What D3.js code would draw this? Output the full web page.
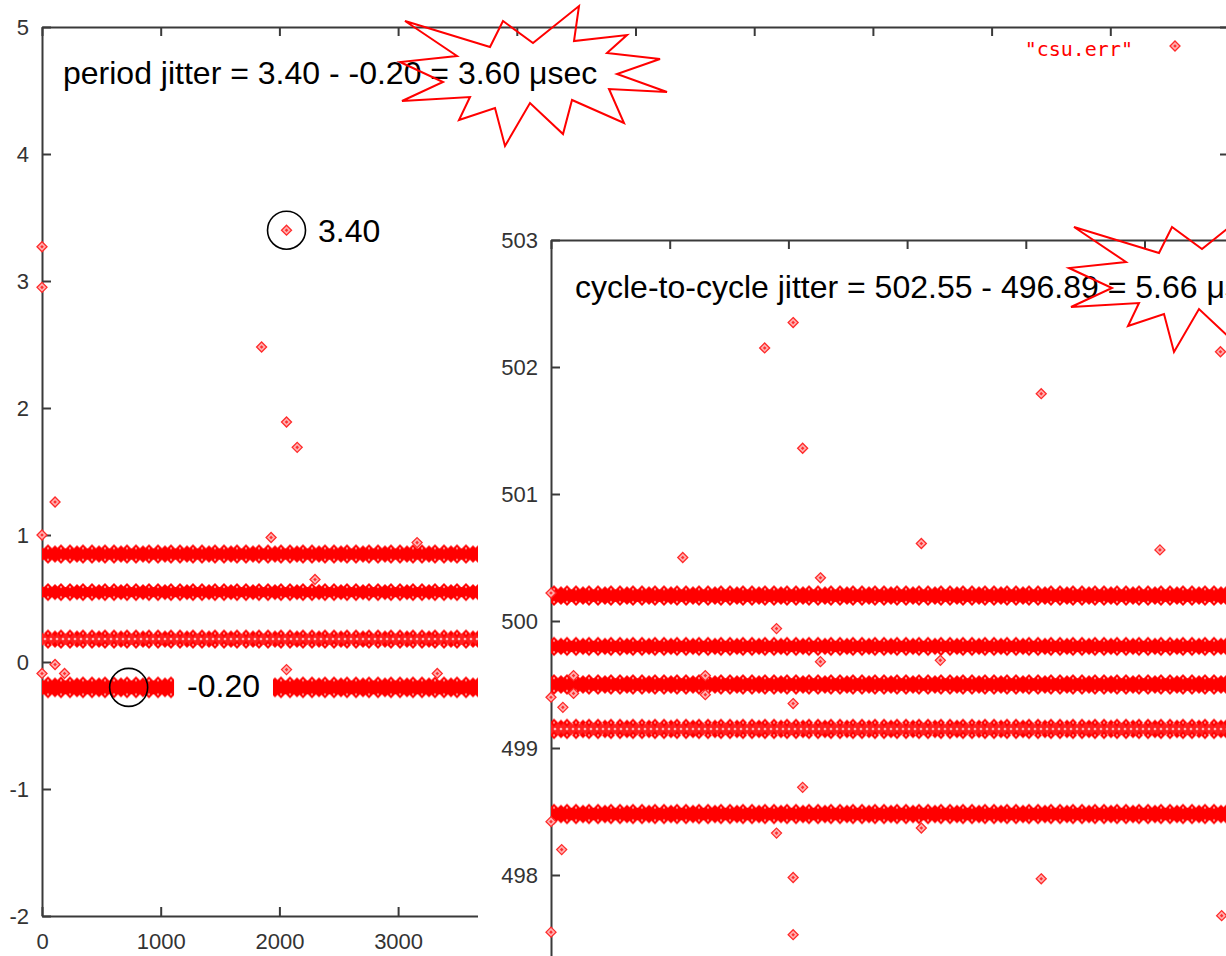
<!DOCTYPE html>
<html>
<head>
<meta charset="utf-8">
<script src="https://cdn.jsdelivr.net/npm/d3@7"></script>
<style>
  body { margin: 0; background: #fff; }
  svg { display: block; }
  .tick text { font-family: "Liberation Sans", Arial, sans-serif; font-size: 22px; fill: #333; }
  .note { font-family: "Liberation Sans", Arial, sans-serif; font-size: 32px; fill: #000; }
</style>
</head>
<body>
<svg id="chart" width="1226" height="956"></svg>
<script>
////////////////////////////////////////////////////////////////////////
// Data

// period jitter (usec) against sample number
let periodBands = [
  // level, half thickness of the band (usec), look of the band
  { level: 0.85, half: 0.045, style: "solid" },
  { level: 0.55, half: 0.04, style: "solid" },
  { level: 0.18, half: 0.045, style: "sparse" },
  { level: -0.20, half: 0.055, style: "solid" }
];
let periodOutliers = [
  [0, 3.27], [0, 2.95], [0, 1.00], [110, 1.26], [2060, 3.40],
  [1850, 2.48], [2060, 1.89], [2150, 1.69], [1930, 0.98], [2300, 0.65],
  [3160, 0.94], [110, -0.02], [2060, -0.06], [3330, -0.09], [190, -0.09],
  [0, -0.09]
];
let periodMax = [2060, 3.40];
let periodMin = [730, -0.20];

// cycle-to-cycle period (usec) against sample number
let c2cBands = [
  { level: 500.20, half: 0.05, style: "solid" },
  { level: 499.80, half: 0.045, style: "solid" },
  { level: 499.50, half: 0.05, style: "solid" },
  { level: 499.15, half: 0.05, style: "sparse" },
  { level: 498.48, half: 0.05, style: "solid" }
];
let c2cOutliers = [
  [1800, 502.15], [2040, 502.35], [2120, 501.36], [1110, 500.50], [2270, 500.34],
  [3120, 500.61], [4130, 501.79], [5130, 500.56], [5640, 502.12], [1900, 499.94],
  [2270, 499.68], [2040, 499.35], [100, 499.32], [2120, 498.69], [1900, 498.33],
  [3120, 498.37], [2040, 497.98], [2040, 497.53], [90, 498.20], [0, 497.55],
  [4130, 497.97], [5650, 497.68], [1300, 499.57], [1300, 499.42], [190, 499.57],
  [190, 499.43], [0, 499.40], [0, 498.42], [3280, 499.69], [0, 500.22]
];

// axis ticks (only the labels that show from under the inset)
let xTicks = [0, 1000, 2000, 3000, 4000, 5000, 6000, 7000, 8000, 9000, 10000];
let xLabelTicks = [0, 1000, 2000, 3000];
let periodYTicks = [-2, -1, 0, 1, 2, 3, 4, 5];
let c2cYTicks = [497, 498, 499, 500, 501, 502, 503];

// annotation texts
let periodTitle = "period jitter = 3.40 - -0.20 = 3.60 \u03bcsec";
let c2cTitle = "cycle-to-cycle jitter = 502.55 - 496.89 = 5.66 \u03bcsec";
let legendLabel = "\"csu.err\"";

// outline of the starburst callouts, relative to their corner
let burstShape = [
  [5, 21], [90, 47], [103, 21], [133, 43], [179, 6], [174, 41], [227, 35],
  [207, 53], [260, 59], [217, 74], [267, 92], [209, 89], [224, 123], [172, 100],
  [163, 134], [130, 103], [105, 146], [95, 108], [59, 120], [70, 97], [2, 101],
  [43, 82], [0, 62], [57, 56]
];

////////////////////////////////////////////////////////////////////////
// Setup

const svg = d3.select("#chart");
const red = "#ff0000";

// patterns for the dense bands of points
const defs = svg.append("defs");
const scallop = defs.append("pattern")
  .attr("id", "scallop")
  .attr("patternUnits", "userSpaceOnUse")
  .attr("width", 22).attr("height", 8);
scallop.append("path").attr("d", "M4,0L8,4L4,8L0,4Z").attr("fill", red);
scallop.append("path").attr("d", "M11,1L14,4L11,7L8,4Z").attr("fill", red);
scallop.append("path").attr("d", "M17,0L21,4L17,8L13,4Z").attr("fill", red);
scallop.append("path").attr("d", "M17,2.8L18.2,4L17,5.2L15.8,4Z").attr("fill", "#ffb0b0");
scallop.append("path").attr("d", "M4,2.8L5.2,4L4,5.2L2.8,4Z").attr("fill", "#ffb0b0");

const hatch = defs.append("pattern")
  .attr("id", "hatch")
  .attr("patternUnits", "userSpaceOnUse")
  .attr("width", 6).attr("height", 6);
hatch.append("rect").attr("width", 6).attr("height", 6).attr("fill", "#ff2020");
hatch.append("path").attr("d", "M3,1.4L4.6,3L3,4.6L1.4,3Z").attr("fill", "#ffc4c4");

const diamond = "M0,-5L5,0L0,5L-5,0Z";
const innerDiamond = "M0,-1.8L1.8,0L0,1.8L-1.8,0Z";

function drawFrame(g, x, y, yTicks, withXLabels) {
  const [x0, x1] = x.range();
  const [yb, yt] = y.range();
  g.append("g").attr("transform", `translate(${x0},0)`)
    .call(d3.axisLeft(y).tickValues(yTicks).tickSize(-9).tickSizeOuter(0).tickPadding(13)
      .tickFormat(d => String(d)));
  g.append("g").attr("transform", `translate(${x1},0)`)
    .call(d3.axisRight(y).tickValues(yTicks).tickSize(-9).tickSizeOuter(0).tickFormat(""));
  g.append("g").attr("transform", `translate(0,${yt})`)
    .call(d3.axisTop(x).tickValues(xTicks).tickSize(-9).tickSizeOuter(0).tickFormat(""));
  g.append("g").attr("transform", `translate(0,${yb})`)
    .call(d3.axisBottom(x).tickValues(xTicks).tickSize(-9).tickSizeOuter(0).tickFormat(""));
  if (withXLabels) {
    g.append("g").attr("transform", `translate(0,${yb})`)
      .call(d3.axisBottom(x).tickValues(xLabelTicks).tickSize(0).tickPadding(17)
        .tickFormat(d => String(d)))
      .select(".domain").remove();
  }
  g.selectAll(".domain").attr("stroke", "#3a3a3a").attr("stroke-width", 2);
  g.selectAll(".tick line").attr("stroke", "#3a3a3a").attr("stroke-width", 2);
}

function drawBands(g, bands, x, y) {
  const [x0, x1] = x.range();
  bands.forEach(d => {
    const top = y(d.level + d.half);
    const bot = y(d.level - d.half);
    g.append("rect")
      .attr("x", x0).attr("width", x1 - x0)
      .attr("y", top).attr("height", bot - top)
      .attr("fill", d.style === "solid" ? red : "url(#hatch)");
    // ragged edges made of diamonds
    [top, bot].forEach(e => {
      g.append("g").attr("transform", `translate(0,${e - 4})`)
        .append("rect")
        .attr("x", x0).attr("width", x1 - x0)
        .attr("y", 0).attr("height", 8)
        .attr("fill", "url(#scallop)");
    });
  });
}

function drawPoints(g, pts, x, y) {
  const p = g.selectAll("g.pt")
    .data(pts)
    .join("g")
    .attr("class", "pt")
    .attr("transform", d => `translate(${x(d[0])},${y(d[1])})`);
  p.append("path").attr("d", diamond)
    .attr("fill", "#ffb0b0").attr("stroke", "#ff2a2a").attr("stroke-width", 1.3);
  p.append("path").attr("d", innerDiamond).attr("fill", "#ff3030");
}

function drawBurst(g, dx, dy) {
  g.append("path")
    .attr("transform", `translate(${dx},${dy})`)
    .attr("d", d3.line()(burstShape) + "Z")
    .attr("fill", "none")
    .attr("stroke", red)
    .attr("stroke-width", 2);
}

////////////////////////////////////////////////////////////////////////
// Main plot: period jitter

const xMain = d3.scaleLinear().domain([0, 10000]).range([42, 1229]);
const yMain = d3.scaleLinear().domain([-2, 5]).range([916, 27]);

const main = svg.append("g");
drawFrame(main, xMain, yMain, periodYTicks, true);
drawBands(main, periodBands, xMain, yMain);
drawPoints(main.append("g"), periodOutliers, xMain, yMain);

// gnuplot key
main.append("text")
  .attr("x", 1133).attr("y", 56)
  .attr("text-anchor", "end")
  .attr("font-family", "DejaVu Sans Mono, monospace")
  .attr("font-size", 20)
  .attr("fill", red)
  .text(legendLabel);
drawPoints(main.append("g"), [[0, 0]],
  d3.scaleLinear().domain([0, 1]).range([1175, 1176]),
  d3.scaleLinear().domain([0, 1]).range([46, 47]));

// min / max labels
const minLabel = main.append("text")
  .attr("class", "note")
  .attr("x", xMain(1222)).attr("y", yMain(-0.276))
  .text(periodMin[1].toFixed(2));
const bb = minLabel.node().getBBox();
main.insert("rect", "text.note")
  .attr("x", bb.x - 13).attr("y", bb.y - 2)
  .attr("width", bb.width + 26).attr("height", bb.height + 4)
  .attr("fill", "#fff");

main.append("text")
  .attr("class", "note")
  .attr("x", xMain(2325)).attr("y", yMain(3.307))
  .text(periodMax[1].toFixed(2));

main.selectAll("circle.mark")
  .data([periodMax, periodMin])
  .join("circle")
  .attr("class", "mark")
  .attr("cx", d => xMain(d[0])).attr("cy", d => yMain(d[1]))
  .attr("r", 19)
  .attr("fill", "none").attr("stroke", "#000").attr("stroke-width", 1.6);

main.append("text")
  .attr("class", "note")
  .attr("x", xMain(177)).attr("y", yMain(4.55))
  .text(periodTitle);
drawBurst(main, 400, 0);

////////////////////////////////////////////////////////////////////////
// Inset: cycle-to-cycle jitter

const xInset = d3.scaleLinear().domain([0, 10000]).range([551, 1738]);
const yInset = d3.scaleLinear().domain([497, 503]).range([1002, 240]);

const inset = svg.append("g");
inset.append("rect")
  .attr("x", xInset(0) - 73).attr("y", yInset(503) - 12)
  .attr("width", 1226).attr("height", 956)
  .attr("fill", "#fff");
drawFrame(inset, xInset, yInset, c2cYTicks, false);
drawBands(inset, c2cBands, xInset, yInset);
drawPoints(inset.append("g"), c2cOutliers, xInset, yInset);

inset.append("text")
  .attr("class", "note")
  .attr("x", xInset(202)).attr("y", yInset(502.54))
  .text(c2cTitle);
drawBurst(inset, 1069, 206);
</script>
</body>
</html>
